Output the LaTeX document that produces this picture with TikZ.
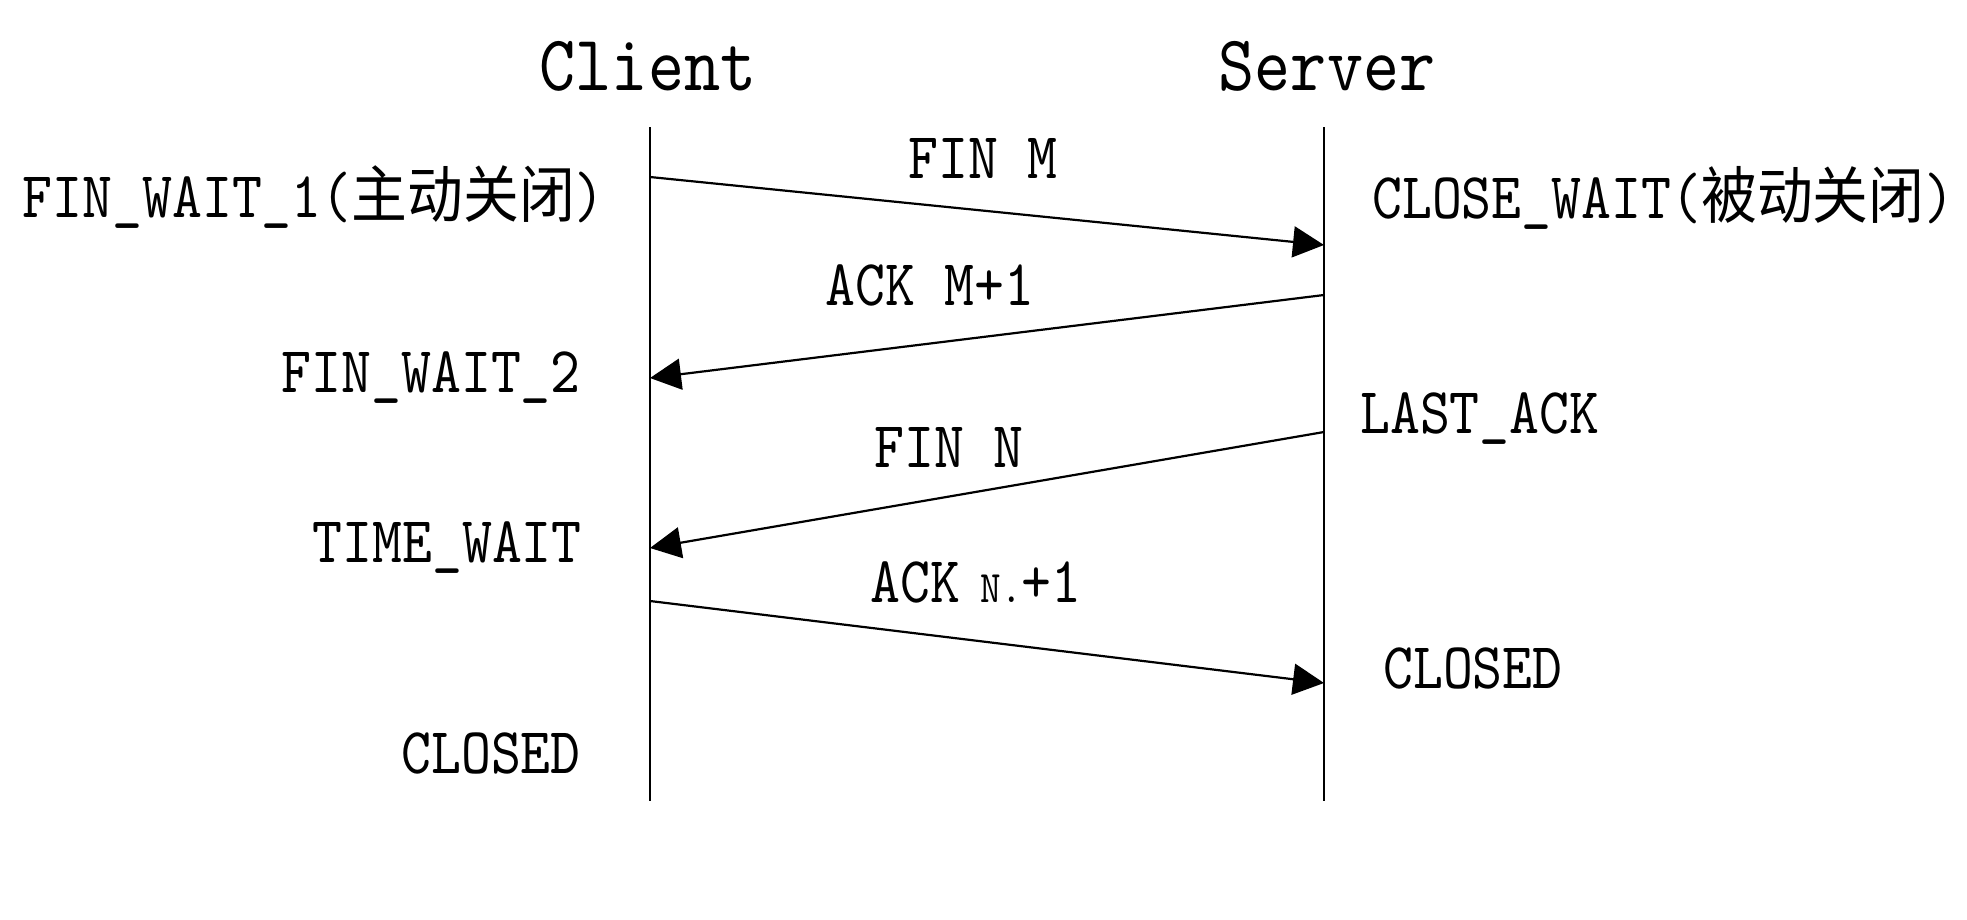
\documentclass[tikz,border=0pt]{standalone}
\usepackage{fontspec}
\usetikzlibrary{arrows.meta}
\newfontfamily\latf{lmmono10-regular.otf}[FakeStretch=0.87]
\newfontfamily\cjkf[FakeStretch=0.9]{Noto Sans CJK SC}
\newcommand\zhtxt[1]{{\cjkf\fontsize{62}{62}\selectfont #1}}
\newcommand\smalltxt[1]{{\fontsize{45}{45}\selectfont #1}}
\begin{document}
\begin{tikzpicture}[x=1pt,y=-1pt,
  lbl/.style={inner sep=0pt, font=\latf\fontsize{65.5}{66}\selectfont},
  ttl/.style={inner sep=0pt, font=\latf\fontsize{79}{80}\selectfont},
  life/.style={line width=2pt},
  msg/.style={line width=2.2pt, -{Triangle[length=31pt,width=31pt]}}]
\fill[white] (0,0) rectangle (1967,919);
\useasboundingbox (0,0) rectangle (1967,919);
% titles
\node[ttl, anchor=base] (client) at (648,90) {Client};
\node[ttl, anchor=base] (server) at (1327,90) {Server};
% lifelines
\coordinate (ctop) at (650,127);
\coordinate (cbot) at (650,801);
\coordinate (stop) at (1324,127);
\coordinate (sbot) at (1324,801);
\draw[life] (ctop) -- (cbot);
\draw[life] (stop) -- (sbot);
% state labels, client side
\node[lbl, anchor=base east] (fw1) at (605,217) {FIN\_WAIT\_1(\zhtxt{主动关闭})};
\node[lbl, anchor=base east] (fw2) at (581,392) {FIN\_WAIT\_2};
\node[lbl, anchor=base east] (tw)  at (582,562) {TIME\_WAIT};
\node[lbl, anchor=base east] (clc) at (581,773) {CLOSED};
% state labels, server side
\node[lbl, anchor=base west] (cw)  at (1372,218) {CLOSE\_WAIT(\zhtxt{被动关闭})};
\node[lbl, anchor=base west] (la)  at (1360,433) {LAST\_ACK};
\node[lbl, anchor=base west] (cls) at (1383,688) {CLOSED};
% message endpoints
\coordinate (c1) at (650,177);
\coordinate (s1) at (1324,245);
\coordinate (s2) at (1324,295);
\coordinate (c2) at (650,378);
\coordinate (s3) at (1324,432);
\coordinate (c3) at (650,548);
\coordinate (c4) at (650,601);
\coordinate (s4) at (1324,683);
% messages
\draw[msg] (c1) -- (s1);
\draw[msg] (s2) -- (c2);
\draw[msg] (s3) -- (c3);
\draw[msg] (c4) -- (s4);
% message labels
\node[lbl, anchor=base] (finm) at (983,178) {FIN M};
\node[lbl, anchor=base] (ackm) at (930,305) {ACK M+1};
\node[lbl, anchor=base] (finn) at (949,467) {FIN N};
\node[lbl, anchor=base] (ackn) at (976,602) {ACK\smalltxt{ N.}+1};
\end{tikzpicture}
\end{document}
